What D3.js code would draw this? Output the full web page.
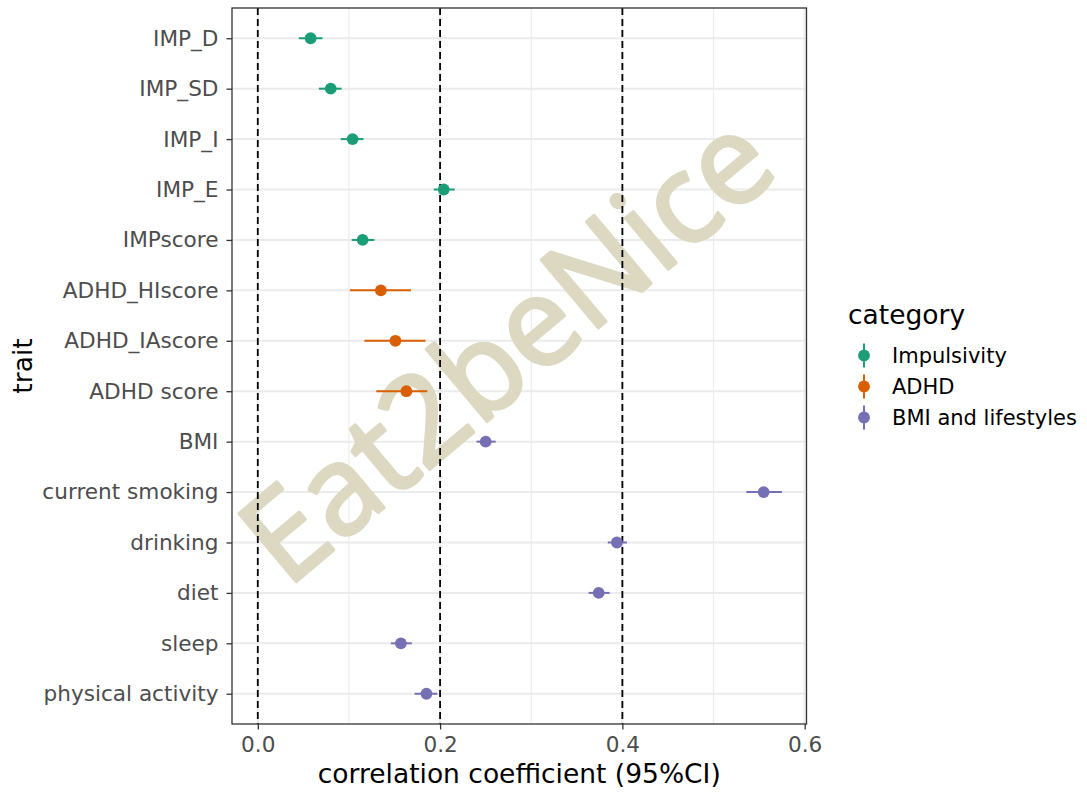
<!DOCTYPE html>
<html>
<head>
<meta charset="utf-8">
<script src="https://cdn.jsdelivr.net/npm/d3@7"></script>
<style>
  body { margin: 0; background: #fff; }
  text { font-family: "DejaVu Sans", sans-serif; }
</style>
</head>
<body>
<div id="chart"></div>
<script>
// traits top to bottom
var traits = ["IMP_D", "IMP_SD", "IMP_I", "IMP_E", "IMPscore", "ADHD_HIscore", "ADHD_IAscore",
              "ADHD score", "BMI", "current smoking", "drinking", "diet", "sleep", "physical activity"];
var traitCategory = ["Impulsivity", "Impulsivity", "Impulsivity", "Impulsivity", "Impulsivity",
                     "ADHD", "ADHD", "ADHD",
                     "BMI and lifestyles", "BMI and lifestyles", "BMI and lifestyles",
                     "BMI and lifestyles", "BMI and lifestyles", "BMI and lifestyles"];
var estimate = [0.058, 0.080, 0.104, 0.204, 0.115, 0.135, 0.151, 0.163, 0.250, 0.555, 0.394, 0.374, 0.157, 0.185];
var lower    = [0.045, 0.067, 0.091, 0.193, 0.103, 0.101, 0.117, 0.130, 0.240, 0.536, 0.384, 0.363, 0.146, 0.172];
var upper    = [0.071, 0.092, 0.116, 0.216, 0.128, 0.168, 0.184, 0.186, 0.261, 0.575, 0.405, 0.386, 0.169, 0.197];

var categories = ["Impulsivity", "ADHD", "BMI and lifestyles"];
var catColors = ["#1B9E77", "#D95F02", "#7570B3"];
var refLines = [0, 0.2, 0.4];
var xTicks = [0, 0.2, 0.4, 0.6];
var xMinor = [0.1, 0.3, 0.5];

var W = 1087, H = 792;
var panel = {left: 232, top: 8, right: 806.5, bottom: 724};

var svg = d3.select('#chart').append('svg')
    .attr('width', W)
    .attr('height', H);

var x = d3.scaleLinear()
    .domain([-0.0283, 0.602])
    .range([panel.left, panel.right]);

var y = d3.scalePoint()
    .domain(traits)
    .range([panel.top, panel.bottom])
    .padding(0.6);

var color = d3.scaleOrdinal().domain(categories).range(catColors);

var rows = traits.map(function(t, i) {
    return {trait: t, cat: traitCategory[i], est: estimate[i], lo: lower[i], hi: upper[i]};
});

// panel background + grid
svg.append('rect')
    .attr('x', panel.left).attr('y', panel.top)
    .attr('width', panel.right - panel.left)
    .attr('height', panel.bottom - panel.top)
    .attr('fill', '#fff');

var grid = svg.append('g');
grid.selectAll('.minor').data(xMinor).enter().append('line')
    .attr('x1', function(d) { return x(d); }).attr('x2', function(d) { return x(d); })
    .attr('y1', panel.top).attr('y2', panel.bottom)
    .attr('stroke', '#ebebeb').attr('stroke-width', 1.1);
grid.selectAll('.majx').data(xTicks).enter().append('line')
    .attr('x1', function(d) { return x(d); }).attr('x2', function(d) { return x(d); })
    .attr('y1', panel.top).attr('y2', panel.bottom)
    .attr('stroke', '#ebebeb').attr('stroke-width', 2);
grid.selectAll('.majy').data(traits).enter().append('line')
    .attr('x1', panel.left).attr('x2', panel.right)
    .attr('y1', function(d) { return y(d); }).attr('y2', function(d) { return y(d); })
    .attr('stroke', '#ebebeb').attr('stroke-width', 2);

// watermark
svg.append('text')
    .attr('transform', 'translate(287,589) rotate(-40)')
    .attr('font-size', 124)
    .attr('textLength', 646)
    .attr('lengthAdjust', 'spacingAndGlyphs')
    .attr('fill', '#dcd8c2')
    .attr('stroke', '#dcd8c2')
    .attr('stroke-width', 3.5)
    .attr('stroke-linejoin', 'round')
    .style('font-family', '"Open Sans", sans-serif')
    .text('Eat2beNice');

// dashed reference lines
svg.selectAll('.ref').data(refLines).enter().append('line')
    .attr('x1', function(d) { return x(d); }).attr('x2', function(d) { return x(d); })
    .attr('y1', panel.top).attr('y2', panel.bottom)
    .attr('stroke', '#000').attr('stroke-width', 1.8)
    .attr('stroke-dasharray', '7,4');

// CI bars and points
var marks = svg.append('g');
marks.selectAll('.ci').data(rows).enter().append('line')
    .attr('x1', function(d) { return x(d.lo); })
    .attr('x2', function(d) { return x(d.hi); })
    .attr('y1', function(d) { return y(d.trait); })
    .attr('y2', function(d) { return y(d.trait); })
    .attr('stroke', function(d) { return color(d.cat); })
    .attr('stroke-width', 2);
marks.selectAll('circle').data(rows).enter().append('circle')
    .attr('cx', function(d) { return x(d.est); })
    .attr('cy', function(d) { return y(d.trait); })
    .attr('r', 5.9)
    .attr('fill', function(d) { return color(d.cat); });

// panel border
svg.append('rect')
    .attr('x', panel.left).attr('y', panel.top)
    .attr('width', panel.right - panel.left)
    .attr('height', panel.bottom - panel.top)
    .attr('fill', 'none')
    .attr('stroke', '#333').attr('stroke-width', 1.3);

// axes
var xAxis = svg.append('g')
    .attr('transform', 'translate(0,' + panel.bottom + ')')
    .call(d3.axisBottom(x).tickValues(xTicks).tickFormat(d3.format('.1f')).tickSize(5.5).tickPadding(7));
var yAxis = svg.append('g')
    .attr('transform', 'translate(' + panel.left + ',0)')
    .call(d3.axisLeft(y).tickSize(5.5).tickPadding(8));

[xAxis, yAxis].forEach(function(a) {
    a.select('.domain').remove();
    a.selectAll('.tick line').attr('stroke', '#333').attr('stroke-width', 1.3);
    a.selectAll('.tick text')
        .attr('fill', '#4d4d4d')
        .attr('font-size', 21.6)
        .attr('font-family', '"DejaVu Sans", sans-serif');
});

// axis titles
svg.append('text')
    .attr('x', (panel.left + panel.right) / 2)
    .attr('y', 783)
    .attr('text-anchor', 'middle')
    .attr('font-size', 26.5)
    .attr('fill', '#000')
    .text('correlation coefficient (95%CI)');

svg.append('text')
    .attr('transform', 'translate(32,' + (panel.top + panel.bottom) / 2 + ') rotate(-90)')
    .attr('text-anchor', 'middle')
    .attr('font-size', 26.5)
    .attr('fill', '#000')
    .text('trait');

// legend
var legend = svg.append('g');
legend.append('text')
    .attr('x', 848).attr('y', 324)
    .attr('font-size', 26.5)
    .attr('fill', '#000')
    .text('category');

var keys = legend.selectAll('.key').data(categories).enter().append('g')
    .attr('transform', function(d, i) { return 'translate(864,' + (355.5 + i * 31) + ')'; });
keys.append('line')
    .attr('y1', -12).attr('y2', 12)
    .attr('stroke', function(d) { return color(d); })
    .attr('stroke-width', 2);
keys.append('circle')
    .attr('r', 5.9)
    .attr('fill', function(d) { return color(d); });
keys.append('text')
    .attr('x', 28).attr('dy', '0.35em')
    .attr('font-size', 21)
    .attr('fill', '#000')
    .text(function(d) { return d; });
</script>
</body>
</html>
